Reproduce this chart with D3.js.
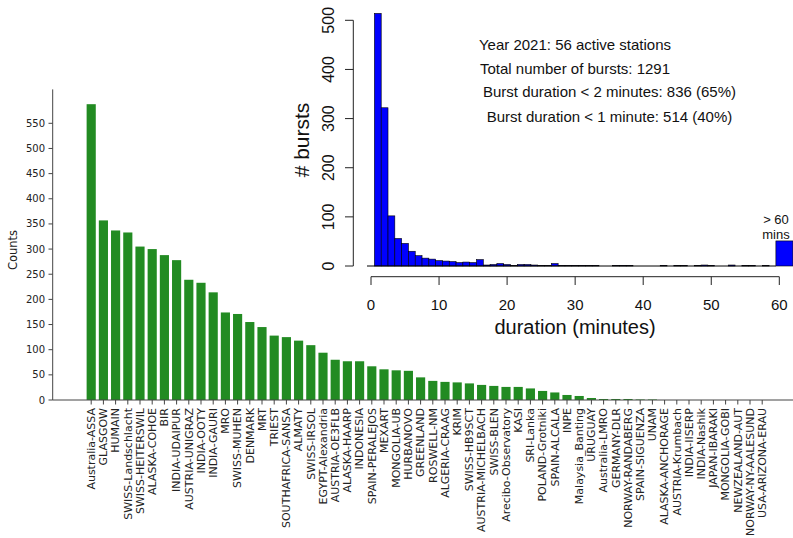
<!DOCTYPE html>
<html>
<head>
<meta charset="utf-8">
<script src="https://d3js.org/d3.v7.min.js"></script>
<style>
  body { margin: 0; background: #fff; }
  svg { display: block; }
</style>
</head>
<body>
<script>
// stations, ordered by counts
var stations = ["Australia-ASSA", "GLASGOW", "HUMAIN", "SWISS-Landschlacht", "SWISS-HEITERSWIL",
  "ALASKA-COHOE", "BIR", "INDIA-UDAIPUR", "AUSTRIA-UNIGRAZ", "INDIA-OOTY", "INDIA-GAURI", "MRO",
  "SWISS-MUHEN", "DENMARK", "MRT", "TRIEST", "SOUTHAFRICA-SANSA", "ALMATY", "SWISS-IRSOL",
  "EGYPT-Alexandria", "AUSTRIA-OE3FLB", "ALASKA-HAARP", "INDONESIA", "SPAIN-PERALEJOS", "MEXART",
  "MONGOLIA-UB", "HURBANOVO", "GREENLAND", "ROSWELL-NM", "ALGERIA-CRAAG", "KRIM", "SWISS-HB9SCT",
  "AUSTRIA-MICHELBACH", "SWISS-BLEN", "Arecibo-Observatory", "KASI", "SRI-Lanka", "POLAND-Grotniki",
  "SPAIN-ALCALA", "INPE", "Malaysia_Banting", "URUGUAY", "Australia-LMRO", "GERMANY-DLR",
  "NORWAY-RANDABERG", "SPAIN-SIGUENZA", "UNAM", "ALASKA-ANCHORAGE", "AUSTRIA-Krumbach",
  "INDIA-IISERP", "INDIA-Nashik", "JAPAN-IBARAKI", "MONGOLIA-GOBI", "NEWZEALAND-AUT",
  "NORWAY-NY-AALESUND", "USA-ARIZONA-ERAU"];
var counts = [588, 357, 337, 333, 305, 300, 288, 278, 239, 233, 214, 174, 171, 155, 145, 128, 125,
  118, 109, 94, 80, 77, 77, 67, 61, 59, 58, 45, 38, 36, 35, 33, 30, 28, 26, 26, 23, 18, 15, 10, 8, 4,
  2, 2, 2, 1, 1, 0, 0, 0, 0, 0, 0, 0, 0, 0];
var countTicks = [0, 50, 100, 150, 200, 250, 300, 350, 400, 450, 500, 550];

// inset: bursts per one-minute duration bin (bin centres in minutes)
var binCentres = [1, 2, 3, 4, 5, 6, 7, 8, 9, 10, 11, 12, 13, 14, 15, 16, 17, 18, 19, 20, 21, 22, 23,
  24, 25, 26, 27, 28, 29, 30, 31, 32, 33, 34, 35, 36, 37, 38, 39, 40, 41, 42, 43, 44, 45, 46, 47, 48,
  49, 50, 51, 52, 53, 54, 55, 56, 57, 58, 59];
var bursts = [514, 322, 102, 56, 46, 30, 21, 16, 14, 11, 10, 9, 7, 8, 7, 13, 2, 3, 5, 3, 1, 3, 3, 2,
  1, 1, 5, 1, 1, 1, 1, 1, 1, 0, 0, 1, 1, 1, 0, 0, 0, 0, 1, 0, 1, 1, 0, 1, 2, 1, 0, 0, 2, 0, 1, 1, 0,
  1, 0];
var over60 = 51;
var durationTicks = [0, 10, 20, 30, 40, 50, 60];
var burstTicks = [0, 100, 200, 300, 400, 500];
var notes = ["Year 2021: 56 active stations", "Total number of bursts: 1291",
  "Burst duration < 2 minutes: 836 (65%)", "Burst duration < 1 minute: 514 (40%)"];

var svg = d3.select("body").append("svg")
  .attr("width", 793).attr("height", 538);

/* main bar chart */
var main = svg.append("g").style("font-family", "DejaVu Sans").attr("fill", "#222");
var x = d3.scaleBand().domain(stations).range([85.1, 768.3])
  .paddingInner(0.25).paddingOuter(0.125);
var y = d3.scaleLinear().domain([0, 617.4]).range([400, 89.4]);

main.selectAll("rect.bar")
  .data(counts)
  .enter()
  .append("rect")
  .attr("class", "bar")
  .attr("x", function(d, i) { return x(stations[i]); })
  .attr("width", x.bandwidth())
  .attr("y", function(d) { return y(d); })
  .attr("height", function(d) { return y(0) - y(d); })
  .attr("fill", "#228b22");

// spines
main.append("line").attr("x1", 52.7).attr("x2", 52.7).attr("y1", y(0)).attr("y2", y(617.4))
  .attr("stroke", "#444").attr("stroke-width", 1);
main.append("line").attr("x1", 52.7).attr("x2", 793).attr("y1", y(0)).attr("y2", y(0))
  .attr("stroke", "#444").attr("stroke-width", 1);

main.selectAll("line.yt").data(countTicks).enter().append("line")
  .attr("x1", 48.5).attr("x2", 52.7)
  .attr("y1", function(d) { return y(d); }).attr("y2", function(d) { return y(d); })
  .attr("stroke", "#444");
main.selectAll("text.yt").data(countTicks).enter().append("text")
  .attr("x", 45).attr("y", function(d) { return y(d); })
  .attr("dy", "0.35em").attr("text-anchor", "end")
  .style("font-size", "10px").text(function(d) { return d; });

main.selectAll("line.xt").data(stations).enter().append("line")
  .attr("x1", function(d) { return x(d) + x.bandwidth() / 2; })
  .attr("x2", function(d) { return x(d) + x.bandwidth() / 2; })
  .attr("y1", 400).attr("y2", 404.5)
  .attr("stroke", "#444");
main.selectAll("text.xt").data(stations).enter().append("text")
  .attr("transform", function(d) {
    return "translate(" + (x(d) + x.bandwidth() / 2) + ",408) rotate(-90)";
  })
  .attr("dy", "0.35em").attr("text-anchor", "end")
  .style("font-size", "11px").text(function(d) { return d; });

main.append("text").attr("transform", "translate(17,250) rotate(-90)")
  .attr("text-anchor", "middle").style("font-size", "11.5px").text("Counts");

/* inset histogram */
var inset = svg.append("g").style("font-family", "Liberation Sans").attr("fill", "#111");
var hx = d3.scaleLinear().domain([0, 60]).range([371, 779.3]);
var hy = d3.scaleLinear().domain([0, 500]).range([266, 20.3]);

inset.selectAll("rect.bin")
  .data(bursts)
  .enter()
  .append("rect")
  .attr("class", "bin")
  .attr("x", function(d, i) { return hx(binCentres[i] - 0.5); })
  .attr("width", hx(1) - hx(0))
  .attr("y", function(d) { return hy(d); })
  .attr("height", function(d) { return hy(0) - hy(d); })
  .attr("fill", "#0000ff").attr("stroke", "#000").attr("stroke-width", 0.6);
inset.append("rect")
  .attr("x", hx(59.5)).attr("width", hx(62) - hx(59.5))
  .attr("y", hy(over60)).attr("height", hy(0) - hy(over60))
  .attr("fill", "#0000ff").attr("stroke", "#000").attr("stroke-width", 0.6);
inset.append("line").attr("x1", 367).attr("x2", hx(59.5)).attr("y1", hy(0)).attr("y2", hy(0))
  .attr("stroke", "#000").attr("stroke-width", 1);

// y axis
inset.append("line").attr("x1", 353.3).attr("x2", 353.3).attr("y1", hy(0)).attr("y2", hy(500))
  .attr("stroke", "#222");
inset.selectAll("line.yt").data(burstTicks).enter().append("line")
  .attr("x1", 345).attr("x2", 353.3)
  .attr("y1", function(d) { return hy(d); }).attr("y2", function(d) { return hy(d); })
  .attr("stroke", "#222");
inset.selectAll("text.yt").data(burstTicks).enter().append("text")
  .attr("transform", function(d) { return "translate(334," + hy(d) + ") rotate(-90)"; })
  .attr("text-anchor", "middle").style("font-size", "16px").text(function(d) { return d; });
inset.append("text").attr("transform", "translate(309,140) rotate(-90)")
  .attr("text-anchor", "middle").style("font-size", "21px").text("# bursts");

// x axis
inset.append("line").attr("x1", hx(0)).attr("x2", hx(60)).attr("y1", 276.7).attr("y2", 276.7)
  .attr("stroke", "#222");
inset.selectAll("line.xt").data(durationTicks).enter().append("line")
  .attr("x1", function(d) { return hx(d); }).attr("x2", function(d) { return hx(d); })
  .attr("y1", 276.7).attr("y2", 285)
  .attr("stroke", "#222");
inset.selectAll("text.xt").data(durationTicks).enter().append("text")
  .attr("x", function(d) { return hx(d); }).attr("y", 310)
  .attr("text-anchor", "middle").style("font-size", "15px").text(function(d) { return d; });
inset.append("text").attr("x", 575).attr("y", 334)
  .attr("text-anchor", "middle").style("font-size", "20px").text("duration (minutes)");

// notes
var noteX = [575, 575, 609.5, 609.5];
var noteY = [50, 74, 97, 122];
inset.selectAll("text.note").data(notes).enter().append("text")
  .attr("x", function(d, i) { return noteX[i]; })
  .attr("y", function(d, i) { return noteY[i]; })
  .attr("text-anchor", "middle").style("font-size", "15px").text(function(d) { return d; });
inset.append("text").attr("x", 776).attr("y", 224)
  .attr("text-anchor", "middle").style("font-size", "13px").text("> 60");
inset.append("text").attr("x", 776).attr("y", 239)
  .attr("text-anchor", "middle").style("font-size", "13px").text("mins");
</script>
</body>
</html>
